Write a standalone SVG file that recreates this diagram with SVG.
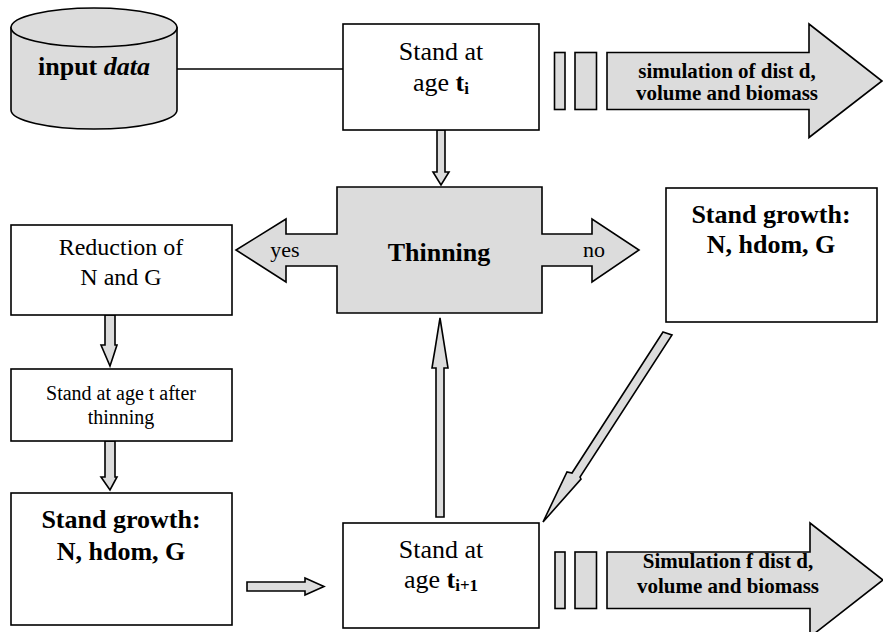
<svg xmlns="http://www.w3.org/2000/svg" width="883" height="632" viewBox="0 0 883 632">
<style>
.s{stroke:#000;stroke-width:1.6;stroke-linejoin:miter}
.g{fill:#dcdcdc}
.w{fill:#fff}
text{font-family:"Liberation Serif","Times New Roman",serif;fill:#000;text-anchor:middle}
.b{font-weight:bold}
</style>
<rect width="883" height="632" fill="#fff"/>
<g id="connectors">
<line class="s" x1="177" y1="69" x2="343" y2="69"/>
<polygon class="s g" points="437,130 445,130 445,172 449,172 441,185 433,172 437,172"/>
<polygon class="s g" points="436,517 444,517 444,368 448,368 440,318 432,368 436,368"/>
<polygon class="s g" points="105,315 115,315 115,345 117,345 110,366 101,345 105,345"/>
<polygon class="s g" points="105,441 115,441 115,477 117,477 110,490 101,477 105,477"/>
<polygon class="s g" points="247,582 305,582 305,578 324,586.5 305,595 305,591 247,591"/>
<polygon class="s g" points="663,332 672,335 580,477 581,479 543,522 567,472 572,473"/>
</g>
<g id="input-data">
<path class="s g" d="M11,27.5 L11,110 A83,19 0 0 0 177,110 L177,27.5 Z"/>
<ellipse class="s g" cx="94" cy="27.5" rx="83" ry="19.5"/>
<text x="94" y="75" font-size="26" class="b">input <tspan font-style="italic">data</tspan></text>
</g>
<g id="stand-ti">
<rect class="s w" x="343" y="24" width="196" height="106"/>
<text x="441" y="60" font-size="26">Stand at</text>
<text x="441" y="91" font-size="26">age <tspan class="b">t</tspan><tspan class="b" font-size="17" dy="3">i</tspan></text>
</g>
<g id="sim-top">
<rect class="s g" x="554.5" y="52.5" width="10.5" height="57"/>
<rect class="s g" x="575" y="52.5" width="21.5" height="57"/>
<polygon class="s g" points="607,52.5 809,52.5 809,24 882,81 809,137.5 809,109.5 607,109.5"/>
<text x="727" y="78" font-size="21" class="b">simulation of dist d,</text>
<text x="727" y="100" font-size="21" class="b">volume and biomass</text>
</g>
<g id="thinning">
<polygon class="s g" points="337,187 542,187 542,234 592,234 592,219 639,250 592,282 592,266 542,266 542,313 337,313 337,266 286,266 286,282 236,250 286,219 286,234 337,234"/>
<text x="439" y="261" font-size="26" class="b">Thinning</text>
<text x="285" y="257" font-size="22">yes</text>
<text x="594" y="257" font-size="22">no</text>
</g>
<g id="reduction">
<rect class="s w" x="11" y="225" width="221" height="90"/>
<text x="121" y="255" font-size="24">Reduction of</text>
<text x="121" y="285" font-size="24">N and G</text>
</g>
<g id="stand-after-thinning">
<rect class="s w" x="11" y="369" width="221" height="72"/>
<text x="121" y="400" font-size="20">Stand at age t after</text>
<text x="121" y="424" font-size="20">thinning</text>
</g>
<g id="growth-left">
<rect class="s w" x="11" y="493" width="221" height="132"/>
<text x="121" y="528" font-size="26" class="b">Stand growth:</text>
<text x="121" y="560" font-size="26" class="b">N, hdom, G</text>
</g>
<g id="growth-right">
<rect class="s w" x="666" y="188" width="211" height="134"/>
<text x="771" y="223" font-size="26" class="b">Stand growth:</text>
<text x="771" y="253" font-size="26" class="b">N, hdom, G</text>
</g>
<g id="stand-ti1">
<rect class="s w" x="343" y="523" width="196" height="105"/>
<text x="441" y="558" font-size="26">Stand at</text>
<text x="441" y="588" font-size="26">age <tspan class="b">t</tspan><tspan class="b" font-size="17" dy="3">i+1</tspan></text>
</g>
<g id="sim-bottom">
<rect class="s g" x="555" y="552" width="10" height="56.5"/>
<rect class="s g" x="575" y="552" width="21.5" height="56.5"/>
<polygon class="s g" points="607,552 810,552 810,523 883,580 810,637 810,608.5 607,608.5"/>
<text x="728" y="568" font-size="21" class="b">Simulation f dist d,</text>
<text x="728" y="593" font-size="21" class="b">volume and biomass</text>
</g>
</svg>
